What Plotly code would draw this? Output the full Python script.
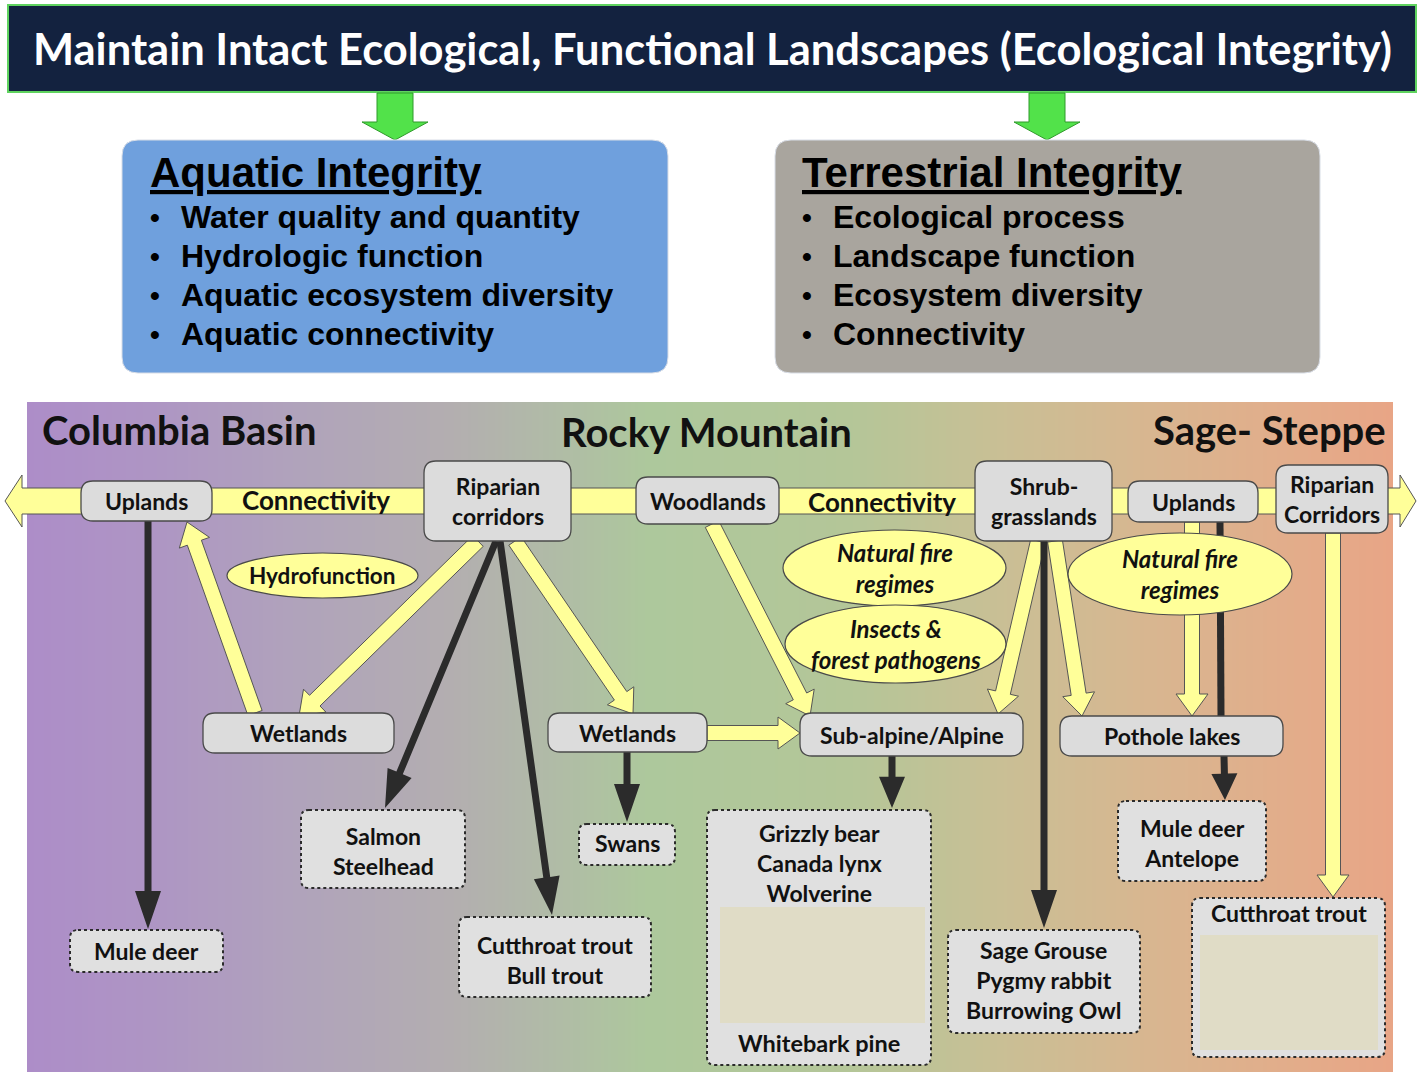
import numpy as np
import plotly.graph_objects as go

W, H = 1418, 1078

# ---------------- text content ----------------
TITLE = "Maintain Intact Ecological, Functional Landscapes (Ecological Integrity)"
AQUATIC_TITLE = "Aquatic Integrity"
AQUATIC_ITEMS = ["Water quality and quantity", "Hydrologic function",
                 "Aquatic ecosystem diversity", "Aquatic connectivity"]
TERR_TITLE = "Terrestrial Integrity"
TERR_ITEMS = ["Ecological process", "Landscape function",
              "Ecosystem diversity", "Connectivity"]
REGIONS = ["Columbia Basin", "Rocky Mountain", "Sage- Steppe"]
CONNECT_LABELS = ["Connectivity", "Connectivity"]
HABITATS = ["Uplands", "Riparian<br>corridors", "Woodlands", "Shrub-<br>grasslands",
            "Uplands", "Riparian<br>Corridors", "Wetlands", "Wetlands",
            "Sub-alpine/Alpine", "Pothole lakes"]
PROCESSES = ["Hydrofunction", "<i>Natural fire<br>regimes</i>",
             "<i>Insects &<br>forest pathogens</i>", "<i>Natural fire<br>regimes</i>"]
SPECIES = ["Mule deer", "Salmon<br>Steelhead", "Cutthroat trout<br>Bull trout", "Swans",
           "Grizzly bear<br>Canada lynx<br>Wolverine", "Sage Grouse<br>Pygmy rabbit<br>Burrowing Owl",
           "Mule deer<br>Antelope", "Cutthroat trout"]
EXTRA_SPECIES = ["Whitebark pine"]

# ---------------- layout geometry (pixels, y down) ----------------
TITLE_BOX = (8, 5, 1416, 92)
TOP_BOXES = [(122, 140, 668, 373), (775, 140, 1320, 373)]
TOP_FILLS = ["#6fa0dd", "#a9a59e"]
TOP_LEFT_X = [148, 800]
BULLET_Y = [217, 256, 295, 334]
GREEN_ARROW_X = [395, 1047]
PANEL = (27, 402, 1393, 1072)
GRAD_STOPS = [(27, "#ad8dc8"), (150, "#ae95c4"), (300, "#b0a3bb"), (450, "#b3aeb0"),
              (560, "#b0bca6"), (650, "#adc89c"), (850, "#b4c698"), (1000, "#c9bf95"),
              (1150, "#d8b690"), (1300, "#e3ac8a"), (1393, "#e8a586")]
REGION_POS = [(40, 430, "left"), (706, 432, "center"), (1388, 430, "right")]
CONNECT_POS = [(316, 500), (882, 502)]
HAB_BOX = [(81, 481, 212, 521), (424, 461, 571, 541), (636, 477, 779, 524),
           (975, 461, 1112, 541), (1128, 481, 1258, 522), (1276, 465, 1388, 533),
           (203, 713, 394, 753), (548, 713, 707, 752), (800, 713, 1023, 756),
           (1060, 716, 1283, 756)]
PROC_ELL = [(227, 553, 418, 598), (783, 530, 1006, 606), (785, 605, 1006, 683),
            (1068, 533, 1292, 615)]
SPEC_BOX = [(70, 930, 223, 972), (301, 810, 465, 888), (459, 917, 651, 997),
            (579, 824, 675, 865), (707, 810, 931, 1065), (948, 930, 1140, 1033),
            (1118, 801, 1266, 881), (1192, 898, 1385, 1057)]
SPEC_TEXT_Y = [951, 851, 960, 843, 863, 980, 843, 913]
EXTRA_POS = [(819, 1043)]
INNER_BEIGE = [(720, 907, 925, 1023), (1200, 935, 1378, 1050)]
Y_ARROWS = [((255, 713), (187, 522)), ((478, 541), (299, 716)), ((515, 541), (633, 714)),
            ((712, 524), (810, 716)), ((707, 733), (800, 733)), ((1038, 541), (998, 714)),
            ((1055, 541), (1082, 716)), ((1192, 522), (1192, 716)), ((1333, 533), (1333, 897))]
B_ARROWS = [((148, 521), (148, 929)), ((496, 541), (385, 808)), ((500, 541), (552, 915)),
            ((627, 752), (627, 822)), ((892, 756), (892, 808)), ((1044, 541), (1044, 928)),
            ((1224, 756), (1225, 800))]
B_LINES = [((1220, 522), (1221, 716))]

# ---------------- helpers ----------------
def poly_path(pts):
    return "M" + " L".join(f"{x:.1f},{y:.1f}" for x, y in pts) + " Z"

def rrect(x0, y0, x1, y1, r):
    return (f"M{x0+r},{y0} L{x1-r},{y0} Q{x1},{y0} {x1},{y0+r} L{x1},{y1-r} "
            f"Q{x1},{y1} {x1-r},{y1} L{x0+r},{y1} Q{x0},{y1} {x0},{y1-r} "
            f"L{x0},{y0+r} Q{x0},{y0} {x0+r},{y0} Z")

def arrow_pts(p0, p1, sw, hw, hl):
    (x0, y0), (x1, y1) = p0, p1
    dx, dy = x1 - x0, y1 - y0
    L = np.hypot(dx, dy)
    ux, uy = dx / L, dy / L
    nx, ny = -uy, ux
    hl = min(hl, 0.6 * L)
    bx, by = x1 - ux * hl, y1 - uy * hl
    s, h = sw / 2, hw / 2
    return [(x0 + nx * s, y0 + ny * s), (bx + nx * s, by + ny * s), (bx + nx * h, by + ny * h),
            (x1, y1), (bx - nx * h, by - ny * h), (bx - nx * s, by - ny * s),
            (x0 - nx * s, y0 - ny * s)]

shapes = []
def add_path(path, fill, line="rgba(0,0,0,0)", lw=0, dash="solid"):
    shapes.append(dict(type="path", path=path, xref="x", yref="y", fillcolor=fill,
                       line=dict(color=line, width=lw, dash=dash), layer="above"))

fig = go.Figure()

# gradient panel as a heatmap
N = 400
xe = np.linspace(PANEL[0], PANEL[2], N + 1)
xc = (xe[:-1] + xe[1:]) / 2
span = PANEL[2] - PANEL[0]
cscale = [[(x - PANEL[0]) / span, c] for x, c in GRAD_STOPS]
fig.add_trace(go.Heatmap(x=xe, y=[PANEL[1], PANEL[3]], z=[xc], colorscale=cscale,
                         zmin=PANEL[0], zmax=PANEL[2], showscale=False, hoverinfo="skip"))

# title bar
shapes.append(dict(type="rect", x0=TITLE_BOX[0], y0=TITLE_BOX[1], x1=TITLE_BOX[2], y1=TITLE_BOX[3],
                   xref="x", yref="y", fillcolor="#13223f", line=dict(color="#5fd35f", width=2)))
# green arrows
for cx in GREEN_ARROW_X:
    pts = [(cx - 18, 93), (cx + 18, 93), (cx + 18, 122), (cx + 33, 122), (cx, 140),
           (cx - 33, 122), (cx - 18, 122)]
    add_path(poly_path(pts), "#52e24a", "#2f9a2a", 1)
# top boxes
for (x0, y0, x1, y1), f in zip(TOP_BOXES, TOP_FILLS):
    add_path(rrect(x0, y0, x1, y1, 16), f, "#d8dde6", 1)

# connectivity band (double-headed)
band = [(5, 501), (22, 475), (22, 488), (1400, 488), (1400, 475), (1416, 501),
        (1400, 527), (1400, 514), (22, 514), (22, 527)]
add_path(poly_path(band), "#ffff99", "#555555", 1)

# yellow arrows
for p0, p1 in Y_ARROWS:
    add_path(poly_path(arrow_pts(p0, p1, 15, 32, 22)), "#ffff99", "#555555", 1)
# black lines & arrows
for p0, p1 in B_LINES:
    add_path(poly_path(arrow_pts(p0, p1, 7, 7, 0.01)), "#2b2b2b")
for p0, p1 in B_ARROWS:
    add_path(poly_path(arrow_pts(p0, p1, 7, 26, 38)), "#2b2b2b")

# habitat nodes
for (x0, y0, x1, y1) in HAB_BOX:
    add_path(rrect(x0, y0, x1, y1, 12), "#dcdcdc", "#4a4a4a", 1.3)
# process ellipses
for (x0, y0, x1, y1) in PROC_ELL:
    shapes.append(dict(type="circle", x0=x0, y0=y0, x1=x1, y1=y1, xref="x", yref="y",
                       fillcolor="#ffff99", line=dict(color="#4a4a4a", width=1.2), layer="above"))
# species boxes
for (x0, y0, x1, y1) in SPEC_BOX:
    add_path(rrect(x0, y0, x1, y1, 8), "#e0e0e0", "#2b2b2b", 2, "dot")
for (x0, y0, x1, y1) in INNER_BEIGE:
    shapes.append(dict(type="rect", x0=x0, y0=y0, x1=x1, y1=y1, xref="x", yref="y",
                       fillcolor="#e0dcc6", line=dict(width=0), layer="above"))

# ---------------- annotations ----------------
ann = []
def text(x, y, s, size, family="Lato", color="#111111", xanchor="center", yanchor="middle"):
    ann.append(dict(x=x, y=y, xref="x", yref="y", text=s, showarrow=False,
                    font=dict(family=family, size=size, color=color),
                    xanchor=xanchor, yanchor=yanchor, align="center"))

text(712, 48, f"<b>{TITLE}</b>", 43.5, "Lato", "white")
for lx, ttl, items in zip(TOP_LEFT_X, [AQUATIC_TITLE, TERR_TITLE], [AQUATIC_ITEMS, TERR_ITEMS]):
    text(lx, 172, f"<b><u>{ttl}</u></b>", 42, "Liberation Sans", "#000000", "left")
    for y, it in zip(BULLET_Y, items):
        text(lx + 7, y, "<b>•</b>", 28, "Liberation Sans", "#000000", "center")
        text(lx + 31, y, f"<b>{it}</b>", 32, "Liberation Sans", "#000000", "left")

for (x, y, a), r in zip(REGION_POS, REGIONS):
    text(x, y, f"<b>{r}</b>", 40, xanchor=a)
for (x, y), c in zip(CONNECT_POS, CONNECT_LABELS):
    text(x, y, f"<b>{c}</b>", 26)
for (x0, y0, x1, y1), h in zip(HAB_BOX, HABITATS):
    text((x0 + x1) / 2, (y0 + y1) / 2, f"<b>{h}</b>", 23)
for (x0, y0, x1, y1), p in zip(PROC_ELL, PROCESSES):
    text((x0 + x1) / 2, (y0 + y1) / 2, f"<b>{p}</b>", 22.5 if "Hydro" in p else 24)
for (x0, y0, x1, y1), ty, s in zip(SPEC_BOX, SPEC_TEXT_Y, SPECIES):
    text((x0 + x1) / 2, ty, f"<b>{s}</b>", 23)
for (x, y), s in zip(EXTRA_POS, EXTRA_SPECIES):
    text(x, y, f"<b>{s}</b>", 23.5)

fig.update_layout(
    width=W, height=H, margin=dict(l=0, r=0, t=0, b=0, pad=0),
    paper_bgcolor="white", plot_bgcolor="white",
    xaxis=dict(range=[0, W], visible=False, fixedrange=True),
    yaxis=dict(range=[H, 0], visible=False, fixedrange=True),
    shapes=shapes, annotations=ann, showlegend=False,
)

fig.write_html("out.html", config={"displayModeBar": False},
               post_script="document.body.style.margin='0';document.body.style.overflow='hidden';")
